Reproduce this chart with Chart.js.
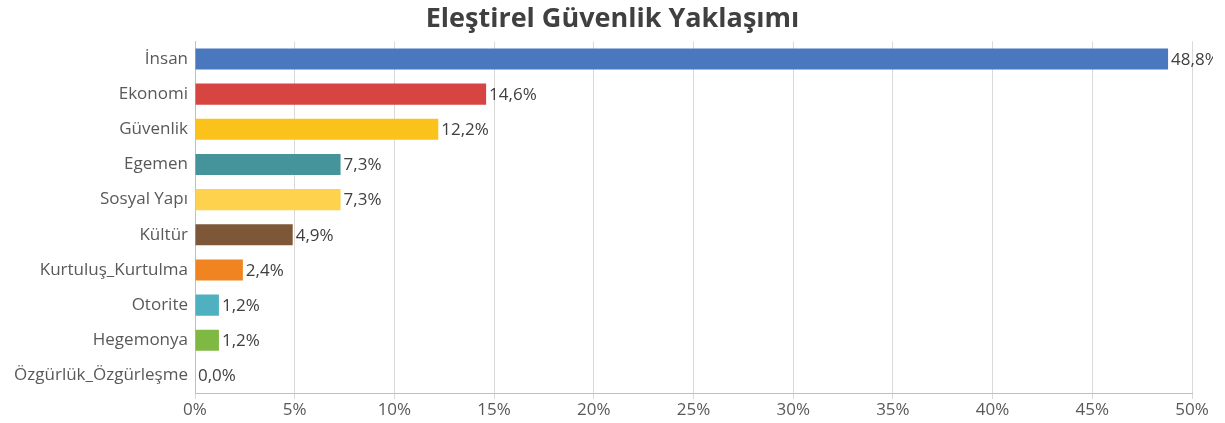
<!DOCTYPE html>
<html>
<head>
<meta charset="utf-8">
<script src="https://cdn.jsdelivr.net/npm/chart.js@4/dist/chart.umd.min.js"></script>
<style>
html,body{margin:0;padding:0;background:#fff;}
canvas{display:block;}
</style>
</head>
<body>
<canvas id="c" width="1225" height="423"></canvas>
<script>
(function(){
'use strict';

var kategorien = ['İnsan','Ekonomi','Güvenlik','Egemen','Sosyal Yapı','Kültür','Kurtuluş_Kurtulma','Otorite','Hegemonya','Özgürlük_Özgürleşme'];
var werte = [48.8, 14.6, 12.2, 7.3, 7.3, 4.9, 2.4, 1.2, 1.2, 0.0];
var farben = ['#4a78be','#d64541','#fbc21b','#45939b','#ffd24d','#7d5737','#ef8420','#4fb0bf','#7fb843'];
var xTicks = [0,5,10,15,20,25,30,35,40,45,50];
var titel = 'Eleştirel Güvenlik Yaklaşımı';

var FONT = "'Open Sans', 'Noto Sans', sans-serif";

function fmt(v){ return v.toFixed(1).replace('.', ',') + '%'; }

// Wertbeschriftung rechts neben den Balken
var wertLabels = {
  id:'wertLabels',
  afterDatasetsDraw:function(chart){
    var ctx = chart.ctx;
    var meta = chart.getDatasetMeta(0);
    ctx.save();
    ctx.beginPath();
    ctx.rect(0, 0, 1213, chart.height);
    ctx.clip();
    ctx.font = '17px ' + FONT;
    ctx.fillStyle = '#404040';
    ctx.textAlign = 'left';
    ctx.textBaseline = 'middle';
    meta.data.forEach(function(bar, i){
      ctx.fillText(fmt(werte[i]), bar.x + 3, bar.y + 1);
    });
    ctx.restore();
  }
};

var ctx = document.getElementById('c').getContext('2d');
new Chart(ctx, {
  type:'bar',
  data:{
    labels:kategorien,
    datasets:[{
      data:werte,
      backgroundColor:farben,
      borderWidth:0,
      barPercentage:0.6,
      categoryPercentage:1.0
    }]
  },
  options:{
    indexAxis:'y',
    responsive:false,
    animation:false,
    layout:{padding:0},
    scales:{
      x:{
        min:0, max:50,
        afterBuildTicks:function(s){ s.ticks = xTicks.map(function(v){return {value:v};}); },
        ticks:{color:'#595959',font:{family:FONT,size:17},padding:1,maxRotation:0,callback:function(v){return v+'%';}},
        grid:{color:'#d9d9d9',tickLength:6,tickColor:'#d9d9d9'},
        border:{color:'#bfbfbf'},
        afterFit:function(s){ s.height = 30; s.paddingRight = 33; }
      },
      y:{
        ticks:{color:'#595959',font:{family:FONT,size:17},padding:7,autoSkip:false},
        grid:{display:false,drawTicks:false},
        border:{color:'#bfbfbf'},
        afterFit:function(s){ s.width = 195; }
      }
    },
    plugins:{
      legend:{display:false},
      tooltip:{enabled:false},
      title:{
        display:true,
        text:titel,
        color:'#404040',
        font:{family:FONT,size:27,weight:'bold'},
        padding:{top:3,bottom:6}
      }
    }
  },
  plugins:[wertLabels]
});
})();
</script>
</body>
</html>
